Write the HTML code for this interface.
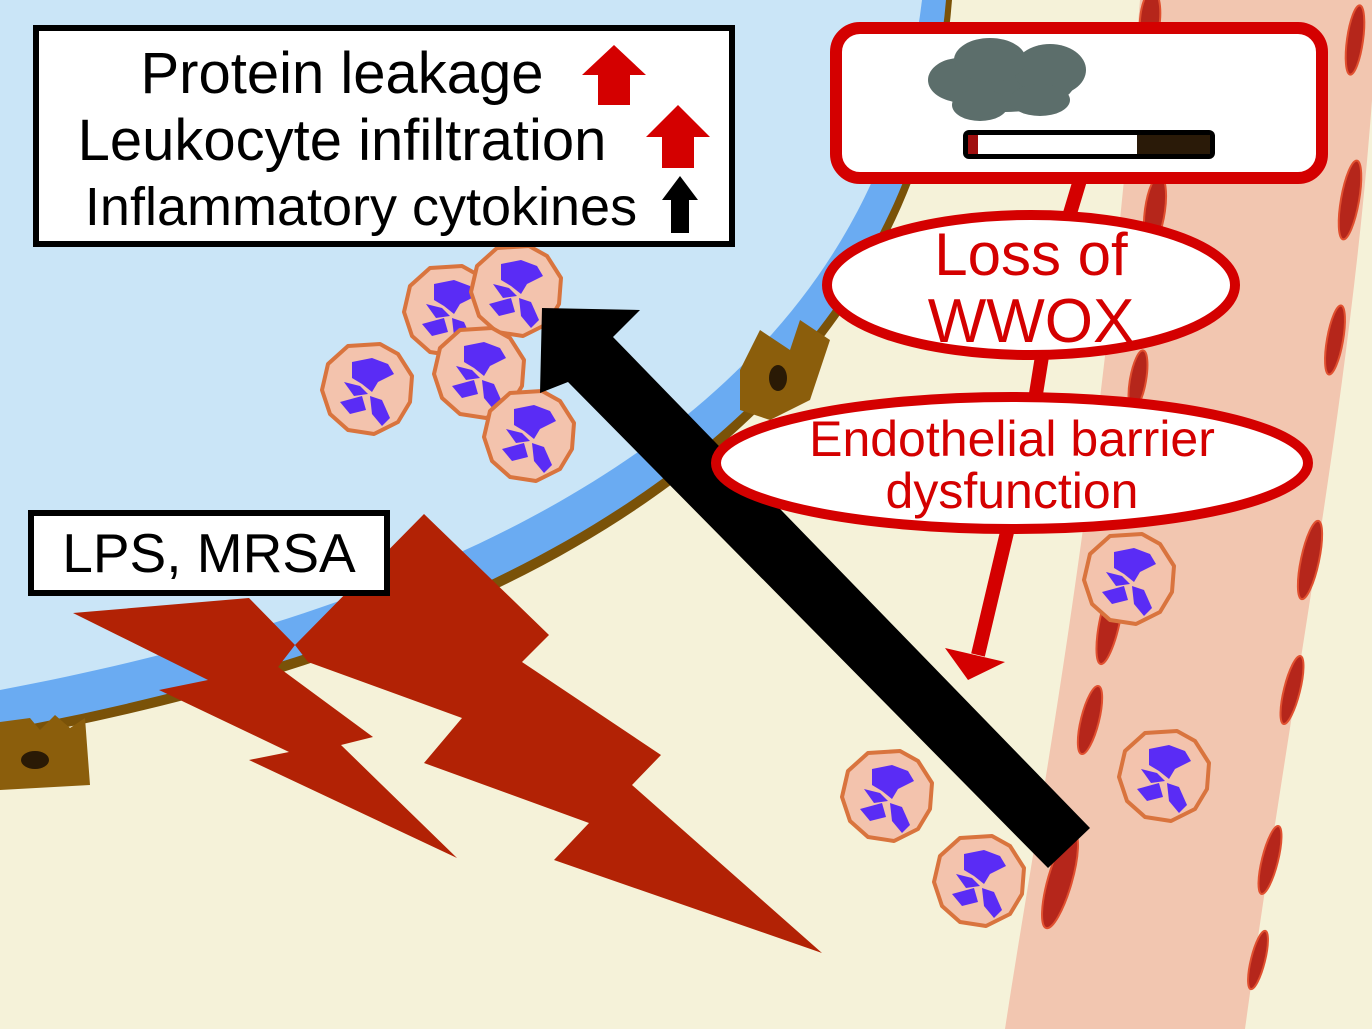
<!DOCTYPE html>
<html><head><style>html,body{margin:0;padding:0;background:#f5f2d9}svg{display:block}</style></head><body>
<svg width="1372" height="1029" viewBox="0 0 1372 1029" xmlns="http://www.w3.org/2000/svg" font-family="Liberation Sans, sans-serif">
<defs>
<g id="cell">
<path d="M-20,-42 L12,-44 L30,-34 L44,-12 L42,14 L30,34 L6,46 L-20,42 L-38,26 L-46,2 L-40,-24 Z" fill="#f3c3ad" stroke="#d9743e" stroke-width="4" stroke-linejoin="round"/>
<path d="M-16,-26 L4,-30 L20,-24 L26,-14 L10,-6 L4,4 L-6,-4 L-16,-10 Z" fill="#5a2cf5"/>
<path d="M-24,-6 L-8,-2 L0,6 L-14,8 Z" fill="#5a2cf5"/>
<path d="M-28,14 L-6,8 L-2,22 L-18,26 Z" fill="#5a2cf5"/>
<path d="M2,8 L14,12 L22,30 L14,38 L4,26 Z" fill="#5a2cf5"/>
</g>
</defs>
<rect width="1372" height="1029" fill="#f5f2d9"/>
<path d="M1140,0 L1372,0 L1372,100 C1350,400 1290,700 1245,1029 L1005,1029 C1040,800 1100,500 1140,0 Z" fill="#f2c6b0"/>
<g fill="#b5261b" stroke="#e05030" stroke-width="2">
<ellipse cx="1150" cy="20" rx="10" ry="30" transform="rotate(5 1150 20)"/>
<ellipse cx="1155" cy="210" rx="10" ry="35" transform="rotate(8 1155 210)"/>
<ellipse cx="1138" cy="380" rx="8" ry="30" transform="rotate(10 1138 380)"/>
<ellipse cx="1110" cy="620" rx="10" ry="45" transform="rotate(12 1110 620)"/>
<ellipse cx="1090" cy="720" rx="9" ry="35" transform="rotate(14 1090 720)"/>
<ellipse cx="1060" cy="880" rx="12" ry="50" transform="rotate(16 1060 880)"/>
<ellipse cx="1355" cy="40" rx="8" ry="35" transform="rotate(8 1355 40)"/>
<ellipse cx="1350" cy="200" rx="9" ry="40" transform="rotate(10 1350 200)"/>
<ellipse cx="1335" cy="340" rx="8" ry="35" transform="rotate(10 1335 340)"/>
<ellipse cx="1310" cy="560" rx="9" ry="40" transform="rotate(12 1310 560)"/>
<ellipse cx="1292" cy="690" rx="8" ry="35" transform="rotate(14 1292 690)"/>
<ellipse cx="1270" cy="860" rx="8" ry="35" transform="rotate(14 1270 860)"/>
<ellipse cx="1258" cy="960" rx="7" ry="30" transform="rotate(14 1258 960)"/>
</g>
<path d="M0,0 L952,0 C930,290 720,610 0,740 Z" fill="#7a5208"/>
<path d="M0,0 L946,0 C922,285 712,600 0,730 Z" fill="#6aabf2"/>
<path d="M0,0 L922,0 C890,270 690,560 0,690 Z" fill="#cae5f7"/>
<path d="M0,722 L30,718 L40,730 L55,715 L70,728 L85,718 L90,785 L0,790 Z" fill="#8b5e0c"/>
<ellipse cx="35" cy="760" rx="14" ry="9" fill="#2a1a05"/>
<path d="M740,370 L760,330 L790,350 L800,320 L830,340 L810,400 L770,420 L740,410 Z" fill="#8b5e0c"/>
<ellipse cx="778" cy="378" rx="9" ry="13" fill="#2a1a05"/>
<use href="#cell" x="450" y="310"/>
<use href="#cell" x="517" y="290"/>
<use href="#cell" x="480" y="372"/>
<use href="#cell" x="368" y="388"/>
<use href="#cell" x="530" y="435"/>
<use href="#cell" x="1130" y="578"/>
<use href="#cell" x="1165" y="775"/>
<use href="#cell" x="888" y="795"/>
<use href="#cell" x="980" y="880"/>
<g fill="#b22205">
<polygon points="73,613 249,598 295,645 278,667 373,737 341,745 457,858 249,760 289,752 159,690 208,680"/>
<polygon points="424,514 549,635 522,662 661,755 632,785 822,953 554,860 589,823 424,763 462,718 308,662 295,645"/>
</g>
<polygon points="542,308 640,310 613,337 1090,828 1048,868 568,382 540,393" fill="#000"/>
<g stroke="#d40000" stroke-width="14" fill="none">
<line x1="1080" y1="180" x2="1068" y2="220"/>
<line x1="1043" y1="350" x2="1035" y2="400"/>
<line x1="1008" y1="528" x2="978" y2="655"/>
</g>
<polygon points="945,648 1005,662 968,680" fill="#d40000"/>
<rect x="36" y="28" width="696" height="216" fill="#fff" stroke="#000" stroke-width="6"/>
<text x="342" y="93" font-size="58" text-anchor="middle">Protein leakage</text>
<text x="342" y="160" font-size="58" text-anchor="middle">Leukocyte infiltration</text>
<text x="361" y="225" font-size="54" text-anchor="middle">Inflammatory cytokines</text>
<polygon points="614,45 646,75 630,75 630,105 598,105 598,75 582,75" fill="#d40000"/>
<polygon points="678,105 710,137 694,137 694,168 662,168 662,137 646,137" fill="#d40000"/>
<polygon points="680,176 698,200 689,200 689,233 671,233 671,200 662,200" fill="#000"/>
<rect x="31" y="513" width="356" height="80" fill="#fff" stroke="#000" stroke-width="6"/>
<text x="209" y="572" font-size="55" text-anchor="middle">LPS, MRSA</text>
<rect x="836" y="28" width="486" height="150" rx="24" fill="#fff" stroke="#d40000" stroke-width="12"/>
<g fill="#5c6e6b">
<ellipse cx="1005" cy="82" rx="70" ry="30"/>
<ellipse cx="960" cy="80" rx="32" ry="22"/>
<ellipse cx="1050" cy="70" rx="36" ry="26"/>
<ellipse cx="990" cy="60" rx="36" ry="22"/>
<ellipse cx="980" cy="105" rx="28" ry="16"/>
<ellipse cx="1040" cy="100" rx="30" ry="16"/>
</g>
<rect x="963" y="130" width="252" height="29" rx="6" fill="#000"/>
<rect x="968" y="135" width="10" height="19" fill="#a01010"/>
<rect x="978" y="135" width="159" height="19" fill="#fff"/>
<rect x="1137" y="135" width="73" height="19" fill="#2a1a08"/>
<ellipse cx="1031" cy="285" rx="204" ry="70" fill="#fff" stroke="#d40000" stroke-width="10"/>
<text x="1031" y="275" font-size="60" fill="#d40000" text-anchor="middle">Loss of</text>
<text x="1031" y="342" font-size="62" fill="#d40000" text-anchor="middle">WWOX</text>
<ellipse cx="1012" cy="463" rx="296" ry="66" fill="#fff" stroke="#d40000" stroke-width="10"/>
<text x="1012" y="456" font-size="50" fill="#d40000" text-anchor="middle">Endothelial barrier</text>
<text x="1012" y="508" font-size="50" fill="#d40000" text-anchor="middle">dysfunction</text>
</svg>
</body></html>
